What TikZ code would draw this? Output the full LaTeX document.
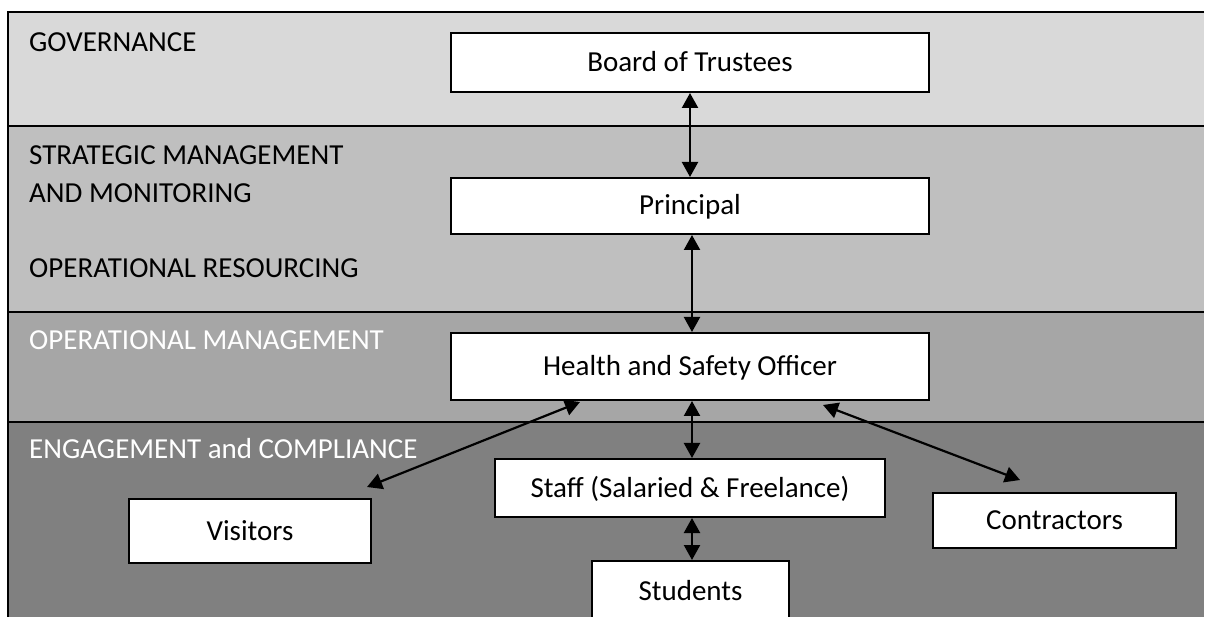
\documentclass[tikz,border=0pt]{standalone}
\usepackage{fontspec}
\setmainfont{Carlito}
\usetikzlibrary{arrows.meta}
\definecolor{gA}{HTML}{D9D9D9}
\definecolor{gB}{HTML}{BFBFBF}
\definecolor{gC}{HTML}{A6A6A6}
\definecolor{gD}{HTML}{808080}
\tikzset{
  bandline/.style={draw=black, line width=2pt},
  box/.style={draw=black, fill=white, line width=2pt, font=\fontsize{29}{35}\selectfont,
    text height=21pt, text depth=3pt, inner sep=0pt, anchor=center},
  lbl/.style={anchor=base west, inner sep=0pt, font=\fontsize{29}{35}\selectfont},
  dbl/.style={line width=2.2pt, {Triangle[length=15pt,width=16pt]}-{Triangle[length=15pt,width=16pt]}}
}
\begin{document}
\begin{tikzpicture}[x=1pt,y=-1pt]
\useasboundingbox (0,0) rectangle (1205,617);
% bands
\fill[gA] (8,12) rectangle (1204,126);
\fill[gB] (8,126) rectangle (1204,312);
\fill[gC] (8,312) rectangle (1204,422);
\fill[gD] (8,422) rectangle (1204,630);
\draw[bandline] (1204,12) -- (8,12) -- (8,630);
\draw[bandline] (8,126) -- (1204,126);
\draw[bandline] (8,312) -- (1204,312);
\draw[bandline] (8,422) -- (1204,422);
% band labels
\node[lbl] (lgov) at (29,52) {GOVERNANCE};
\node[lbl] (lstr1) at (29,165) {STRATEGIC MANAGEMENT};
\node[lbl] (lstr2) at (29,203) {AND MONITORING};
\node[lbl] (lres) at (29,278) {OPERATIONAL RESOURCING};
\node[lbl, text=white] (lops) at (29,350) {OPERATIONAL MANAGEMENT};
\node[lbl, text=white] (leng) at (29,458) {ENGAGEMENT and COMPLIANCE};
% boxes
\node[box, minimum width=478pt, minimum height=59pt] (board) at (690,62.5) {Board of Trustees};
\node[box, minimum width=478pt, minimum height=56pt] (principal) at (690,206) {Principal};
\node[box, minimum width=478pt, minimum height=67pt] (hso) at (690,366.5) {Health and Safety Officer};
\node[box, minimum width=390pt, minimum height=58pt] (staff) at (690,488) {Staff (Salaried \& Freelance)};
\node[box, minimum width=197pt, minimum height=60pt] (students) at (690.5,591) {Students};
\node[box, minimum width=242pt, minimum height=64pt] (visitors) at (250,531) {Visitors};
\node[box, minimum width=243pt, minimum height=55pt] (contractors) at (1054.5,520.5) {Contractors};
% connectors
\draw[dbl] (board.south) -- (principal.north);
\draw[dbl] ([xshift=2pt]principal.south) -- ([xshift=2pt]hso.north);
\draw[dbl] ([xshift=2pt]hso.south) -- ([xshift=2pt]staff.north);
\draw[dbl] ([xshift=2pt]staff.south) -- ([xshift=1.5pt]students.north);
\coordinate (vhi) at (580,402);
\coordinate (vlo) at (367,487);
\coordinate (chi) at (823,405);
\coordinate (clo) at (1020,480);
\draw[dbl] (vhi) -- (vlo);
\draw[dbl] (chi) -- (clo);
\end{tikzpicture}
\end{document}
